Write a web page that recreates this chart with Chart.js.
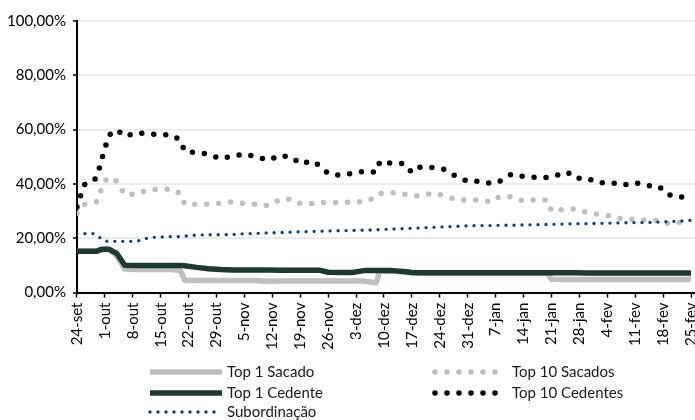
<!DOCTYPE html>
<html>
<head>
<meta charset="utf-8">
<script src="https://cdn.jsdelivr.net/npm/chart.js@4.4.1/dist/chart.umd.min.js"></script>
<style>
  html, body { margin: 0; padding: 0; background: #fff; }
  #wrap { width: 695px; height: 420px; position: relative; }
</style>
</head>
<body>
<div id="wrap"><canvas id="grafico" width="695" height="420"></canvas></div>
<script>
// rotulos semanais do eixo x (um a cada 7 dias a partir de 24-set)
var rotulosX = ['24-set', '1-out', '8-out', '15-out', '22-out', '29-out', '5-nov', '12-nov',
    '19-nov', '26-nov', '3-dez', '10-dez', '17-dez', '24-dez', '31-dez', '7-jan', '14-jan',
    '21-jan', '28-jan', '4-fev', '11-fev', '18-fev', '25-fev'];

// dias corridos desde 24-set
var dias = [0, 1, 2, 4, 5, 6, 7, 8, 10, 12, 15, 18, 21, 24, 26, 27, 30, 33, 36, 39, 42, 45, 48,
    51, 54, 56, 59, 61, 63, 66, 69, 72, 75, 76, 79, 82, 84, 86, 89, 92, 95, 98, 101, 104, 106,
    109, 112, 115, 118, 119, 121, 123, 125, 128, 131, 134, 137, 140, 143, 146, 148, 151, 154];

// concentracao (%)
var top1Sacado = [15.2, 15.2, 15.2, 15.2, 15.2, 15.9, 16.0, 16.0, 13.5, 8.7, 8.5, 8.5, 8.5, 8.5,
    8.0, 4.6, 4.5, 4.5, 4.5, 4.5, 4.5, 4.5, 4.2, 4.3, 4.3, 4.3, 4.3, 4.3, 4.3, 4.3, 4.3, 4.3,
    3.6, 7.9, 7.9, 7.6, 7.2, 7.1, 7.1, 7.1, 7.1, 7.1, 7.1, 7.1, 7.1, 7.1, 7.1, 7.1, 7.1, 4.9,
    4.8, 4.8, 4.8, 4.8, 4.8, 4.8, 4.8, 4.8, 4.8, 4.8, 4.8, 4.8, 4.8];

var top10Sacados = [29.1, 31.0, 32.5, 33.0, 33.5, 37.5, 41.0, 42.5, 41.0, 36.0, 36.3, 37.9, 38.1,
    38.1, 36.3, 32.5, 32.5, 32.5, 32.9, 33.4, 32.8, 32.5, 32.0, 34.4, 34.4, 32.8, 32.8, 33.2,
    33.2, 33.2, 33.3, 33.5, 35.0, 36.5, 36.8, 36.3, 35.6, 35.7, 36.5, 35.8, 34.3, 34.0, 34.1,
    33.4, 35.4, 35.3, 33.7, 34.2, 34.1, 30.0, 30.4, 30.7, 30.8, 29.5, 28.8, 28.2, 27.0, 27.0,
    26.7, 26.5, 25.5, 25.8, 26.6];

var top1Cedente = [15.2, 15.2, 15.2, 15.2, 15.2, 15.9, 16.0, 16.0, 14.4, 10.1, 10.0, 10.0, 10.0,
    10.0, 10.0, 9.9, 9.3, 8.8, 8.5, 8.3, 8.3, 8.3, 8.3, 8.2, 8.2, 8.2, 8.2, 8.2, 7.5, 7.4, 7.4,
    8.1, 8.1, 8.1, 8.1, 7.8, 7.4, 7.3, 7.3, 7.3, 7.3, 7.3, 7.3, 7.3, 7.3, 7.3, 7.3, 7.3, 7.3,
    7.3, 7.3, 7.3, 7.3, 7.2, 7.2, 7.2, 7.2, 7.2, 7.2, 7.2, 7.2, 7.2, 7.2];

var top10Cedentes = [31.5, 36.0, 40.0, 41.0, 42.5, 48.0, 53.0, 58.0, 60.0, 57.5, 58.8, 58.4, 58.2,
    58.0, 56.0, 52.0, 51.5, 51.0, 49.3, 50.3, 51.0, 50.0, 48.7, 50.5, 49.8, 47.4, 48.5, 46.6,
    43.8, 43.2, 43.9, 44.7, 44.3, 48.3, 47.6, 47.5, 44.2, 46.2, 46.1, 45.4, 42.9, 41.0, 41.0,
    40.1, 41.0, 43.6, 42.7, 42.4, 42.4, 42.9, 43.4, 44.4, 42.1, 42.1, 40.4, 40.5, 39.6, 40.5,
    39.4, 39.1, 36.2, 35.0, 36.0];

var subordinacao = [21.7, 21.7, 21.7, 21.7, 21.0, 20.0, 19.0, 18.9, 18.9, 18.9, 18.9, 20.2, 20.5,
    20.6, 20.6, 20.8, 21.2, 21.3, 21.3, 21.4, 21.7, 21.8, 22.0, 22.1, 22.3, 22.4, 22.5, 22.6,
    22.7, 22.8, 22.9, 23.0, 23.1, 23.2, 23.4, 23.6, 23.7, 23.8, 24.0, 24.2, 24.4, 24.6, 24.7,
    24.7, 24.8, 24.8, 24.9, 25.0, 25.1, 25.1, 25.2, 25.3, 25.4, 25.4, 25.5, 25.6, 25.7, 25.8,
    25.8, 26.0, 26.1, 26.3, 26.6];

function pontos(valores) {
    return dias.map(function (d, i) { return { x: d, y: valores[i] }; });
}

Chart.defaults.font.family = "Lato, 'Open Sans', sans-serif";
Chart.defaults.color = '#000';

// posicoes da legenda: [coluna, linha] de cada serie
var legendaPos = [[0, 0], [1, 0], [0, 1], [1, 1], [0, 2]];
var legendaCol = [150, 435];
var legendaLin = [372, 393, 412];

var legendaPlugin = {
    id: 'legendaGrade',
    afterDraw: function (chart) {
        var ctx = chart.ctx;
        ctx.save();
        chart.data.datasets.forEach(function (ds, i) {
            var x = legendaCol[legendaPos[i][0]];
            var y = legendaLin[legendaPos[i][1]];
            ctx.beginPath();
            ctx.strokeStyle = ds.borderColor;
            ctx.lineWidth = ds.borderWidth;
            ctx.lineCap = ds.borderCapStyle;
            ctx.setLineDash(ds.borderDash);
            ctx.moveTo(x, y);
            ctx.lineTo(x + 72, y);
            ctx.stroke();
            ctx.setLineDash([]);
            ctx.fillStyle = '#1a1a1a';
            ctx.font = "15px Lato, 'Open Sans', sans-serif";
            ctx.textBaseline = 'middle';
            ctx.fillText(ds.label, x + 77, y);
        });
        ctx.restore();
    }
};

var config = {
    type: 'line',
    data: {
        datasets: [{
            label: 'Top 1 Sacado',
            data: pontos(top1Sacado),
            borderColor: '#BFBFBF',
            borderWidth: 5.5,
            borderDash: [],
            borderCapStyle: 'butt',
            order: 5
        }, {
            label: 'Top 10 Sacados',
            data: pontos(top10Sacados),
            borderColor: '#BFBFBF',
            borderWidth: 5.5,
            borderDash: [0, 12],
            borderCapStyle: 'round',
            order: 4
        }, {
            label: 'Top 1 Cedente',
            data: pontos(top1Cedente),
            borderColor: '#1E3A2E',
            borderWidth: 5.5,
            borderDash: [],
            borderCapStyle: 'butt',
            order: 3
        }, {
            label: 'Top 10 Cedentes',
            data: pontos(top10Cedentes),
            borderColor: '#000000',
            borderWidth: 5.5,
            borderDash: [0, 12],
            borderCapStyle: 'round',
            order: 2
        }, {
            label: 'Subordinação',
            data: pontos(subordinacao),
            borderColor: '#0A3F7C',
            borderWidth: 3.3,
            borderDash: [0, 8],
            borderCapStyle: 'round',
            order: 1
        }]
    },
    options: {
        responsive: false,
        animation: false,
        events: [],
        elements: {
            point: { radius: 0 },
            line: { tension: 0, borderJoinStyle: 'round', fill: false }
        },
        layout: {
            padding: { top: 21, left: 0, right: 0, bottom: 65 }
        },
        plugins: {
            legend: { display: false },
            tooltip: { enabled: false }
        },
        scales: {
            x: {
                type: 'linear',
                min: 0,
                max: 155,
                afterBuildTicks: function (scale) {
                    scale.ticks = rotulosX.map(function (r, i) { return { value: i * 7 }; });
                },
                afterFit: function (scale) {
                    scale.paddingLeft = 0;
                    scale.paddingRight = 0;
                },
                ticks: {
                    autoSkip: false,
                    minRotation: 90,
                    maxRotation: 90,
                    padding: 5,
                    font: { size: 15 },
                    callback: function (v) { return rotulosX[Math.round(v / 7)]; }
                },
                grid: {
                    drawOnChartArea: false,
                    drawTicks: true,
                    tickLength: 5,
                    tickColor: '#000',
                    tickWidth: 1.5
                },
                border: { color: '#000', width: 2 }
            },
            y: {
                min: 0,
                max: 100,
                ticks: {
                    stepSize: 20,
                    padding: 7,
                    font: { size: 15 },
                    callback: function (v) { return v.toFixed(2).replace('.', ',') + '%'; }
                },
                grid: {
                    color: '#ECECEC',
                    lineWidth: 2,
                    tickLength: 4,
                    tickColor: '#000',
                    tickWidth: 1.5
                },
                border: { color: '#000', width: 2 }
            }
        }
    },
    plugins: [legendaPlugin]
};

var grafico = new Chart(document.getElementById('grafico'), config);
</script>
</body>
</html>
